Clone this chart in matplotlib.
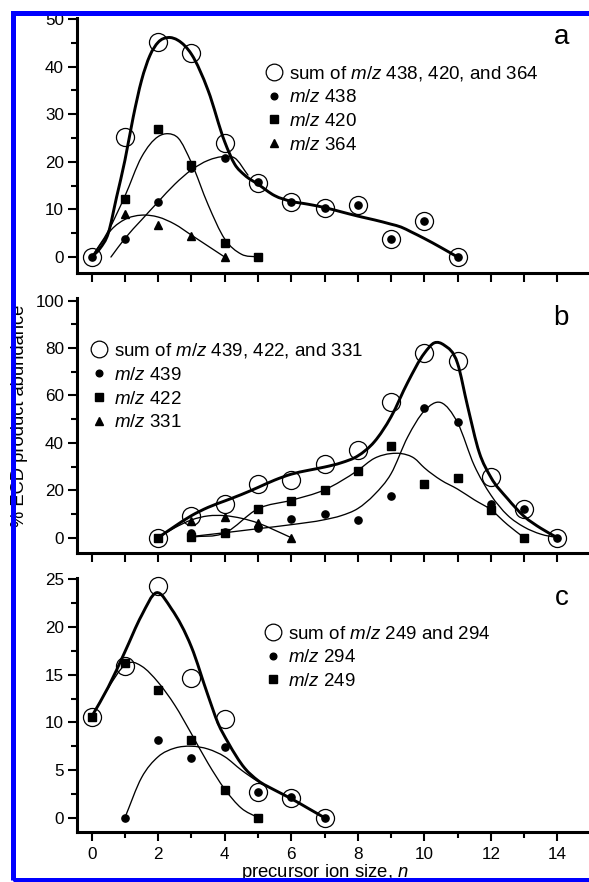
import numpy as np
import matplotlib
matplotlib.use("Agg")
import matplotlib.pyplot as plt
from matplotlib.path import Path
from matplotlib.patches import PathPatch, Rectangle
from matplotlib.ticker import MultipleLocator
from matplotlib.lines import Line2D

plt.rcParams.update({
    "font.family": ["Liberation Sans", "DejaVu Sans"],
    "mathtext.fontset": "custom",
    "mathtext.rm": "Liberation Sans",
    "mathtext.it": "Liberation Sans:italic",
    "mathtext.bf": "Liberation Sans:bold",
    "font.size": 12,
})

# ---------------- data: panel a ----------------
n_a = [0, 1, 2, 3, 4, 5, 6, 7, 8, 9, 10, 11]
sum_a = [0, 25.2, 45.1, 42.9, 23.9, 15.5, 11.6, 10.4, 10.9, 3.8, 7.6, 0]
mz438_a = [0, 3.8, 11.6, 18.8, 20.9, 15.7, 11.6, 10.4, 10.9, 3.8, 7.6, 0]
n420_a = [1, 2, 3, 4, 5]
mz420_a = [12.2, 26.8, 19.4, 3.0, 0]
n364_a = [1, 2, 3, 4]
mz364_a = [9.0, 6.8, 4.4, 0]
# fitted curves
fit_sum_a_x = [0, 0.25, 0.5, 0.75, 1, 1.25, 1.5, 1.75, 2, 2.3, 2.6, 3, 3.5, 4, 4.3, 4.6, 5,
               5.5, 6, 6.5, 7, 7.5, 8, 8.5, 9, 9.3, 9.6, 10, 10.5, 11]
fit_sum_a_y = [0, 1.8, 5.0, 12.6, 20.3, 29.4, 37.1, 42.3, 45.1, 46.1, 45.5, 42.6, 35.0, 24.2,
               19.5, 17.2, 15.3, 12.9, 11.7, 11.1, 10.4, 9.5, 8.6, 7.8, 6.9, 6.3, 5.3, 3.9, 2.0, 0]
fit_438_a_x = [0.58, 1, 1.5, 2, 2.5, 3, 3.5, 4, 4.3, 4.7]
fit_438_a_y = [0, 3.9, 7.8, 11.6, 15.3, 18.3, 20.3, 21.1, 20.8, 17.2]
fit_420_a_x = [0, 0.5, 1, 1.5, 2, 2.3, 2.6, 3, 3.5, 4, 4.5, 5]
fit_420_a_y = [0, 5.5, 12.8, 21.0, 25.3, 25.9, 25.0, 19.8, 11.0, 3.8, 0.6, 0]
fit_364_a_x = [0, 0.3, 0.6, 1, 1.5, 2, 2.5, 3, 3.5, 4]
fit_364_a_y = [0, 3.0, 5.8, 7.9, 8.8, 8.4, 6.9, 4.6, 2.3, 0]

# ---------------- data: panel b ----------------
n_b = [2, 3, 4, 5, 6, 7, 8, 9, 10, 11, 12, 13, 14]
sum_b = [0, 9.1, 14.2, 22.6, 24.2, 31.1, 36.8, 57.2, 77.8, 74.6, 25.8, 12.0, 0]
mz439_b = [0, 1.8, 2.2, 4.0, 7.9, 10.0, 7.5, 17.6, 54.6, 48.7, 14.4, 12.0, 0]
n422_b = [2, 3, 4, 5, 6, 7, 8, 9, 10, 11, 12, 13]
mz422_b = [0, 0.5, 2.0, 12.2, 15.6, 20.1, 28.3, 38.7, 22.7, 25.3, 11.7, 0]
n331_b = [3, 4, 5, 6]
mz331_b = [7.2, 8.9, 6.0, 0]
fit_sum_b_x = [2, 2.5, 3, 3.5, 4, 4.5, 5, 5.5, 6, 6.5, 7, 7.5, 8, 8.5, 9, 9.5, 10, 10.3,
               10.6, 11, 11.3, 11.65, 12, 12.5, 13, 13.5, 14]
fit_sum_b_y = [0, 4.8, 9.3, 12.8, 15.5, 18.2, 21.2, 24.3, 26.8, 28.4, 29.8, 31.6, 34.5, 40.5,
               51, 65.5, 77.8, 82.2, 81.2, 73.5, 55.5, 36.0, 25.5, 16.5, 9.0, 4.0, 0]
fit_439_b_x = [3, 4, 5, 6, 7, 7.5, 8, 8.5, 9, 9.5, 10, 10.5, 11, 11.5, 12, 12.5, 13, 13.5, 14]
fit_439_b_y = [0.5, 2.1, 3.8, 5.5, 7.6, 9.3, 12.3, 18.2, 27, 42.5, 53.5, 57, 48.5, 30.5, 18,
               9.5, 4.5, 1.5, 0]
fit_422_b_x = [3, 4, 5, 6, 7, 8, 8.5, 9, 9.3, 9.7, 10, 10.5, 11, 11.5, 12, 12.5, 13]
fit_422_b_y = [0.3, 2.0, 12.2, 15.8, 20.2, 28.4, 33.5, 35.5, 35.5, 33.5, 29.5, 24.3, 20.5,
               16.0, 11.8, 5.5, 0]
fit_331_b_x = [2, 2.5, 3, 3.5, 4, 4.5, 5, 5.5, 6]
fit_331_b_y = [0, 4.2, 7.5, 9.2, 9.3, 8.2, 6.2, 3.2, 0]

# ---------------- data: panel c ----------------
n_c = [0, 1, 2, 3, 4, 5, 6, 7]
sum_c = [10.6, 15.9, 24.3, 14.7, 10.4, 2.7, 2.1, 0]
n294_c = [1, 2, 3, 4, 5, 6, 7]
mz294_c = [0, 8.1, 6.3, 7.4, 2.7, 2.2, 0]
n249_c = [0, 1, 2, 3, 4, 5]
mz249_c = [10.6, 16.2, 13.4, 8.1, 2.9, 0]
fit_sum_c_x = [0, 0.5, 1, 1.5, 1.95, 2.4, 3, 3.5, 3.8, 4.1, 4.6, 5, 5.5, 6, 6.5, 7]
fit_sum_c_y = [10.6, 13.7, 17.4, 21.2, 23.6, 21.9, 17.9, 12.8, 9.9, 7.9, 5.2, 3.9, 2.9, 2.0, 1.0, 0]
fit_249_c_x = [0, 0.5, 1, 1.2, 1.5, 2, 2.5, 3, 3.5, 4, 4.5, 5]
fit_249_c_y = [10.6, 13.6, 16.0, 16.3, 15.9, 14.2, 11.8, 8.8, 5.7, 3.0, 1.0, 0]
fit_294_c_x = [1, 1.5, 2, 2.5, 3, 3.5, 4, 4.5, 5, 5.5, 6, 6.5, 7]
fit_294_c_y = [0, 4.2, 6.4, 7.3, 7.5, 7.2, 6.4, 5.0, 3.8, 2.9, 2.0, 1.0, 0]

labels_a = ["sum of $m/z$ 438, 420, and 364", "$m/z$ 438", "$m/z$ 420", "$m/z$ 364"]
labels_b = ["sum of $m/z$ 439, 422, and 331", "$m/z$ 439", "$m/z$ 422", "$m/z$ 331"]
labels_c = ["sum of $m/z$ 249 and 294", "$m/z$ 294", "$m/z$ 249"]

W, H = 589, 882
fig = plt.figure(figsize=(W / 100, H / 100), dpi=100)


def add_axes_px(left, top, right, bottom):
    return fig.add_axes([left / W, 1 - bottom / H, (right - left) / W, (bottom - top) / H])


def smooth_path(xs, ys):
    x = np.asarray(xs, float)
    y = np.asarray(ys, float)
    n = len(x)
    d = np.diff(y) / np.diff(x)
    m = np.zeros(n)
    m[0], m[-1] = d[0], d[-1]
    for i in range(1, n - 1):
        h0, h1 = x[i] - x[i - 1], x[i + 1] - x[i]
        m[i] = (d[i - 1] * h1 + d[i] * h0) / (h0 + h1)
    verts = [(x[0], y[0])]
    codes = [Path.MOVETO]
    for i in range(n - 1):
        h = x[i + 1] - x[i]
        verts += [(x[i] + h / 3, y[i] + m[i] * h / 3),
                  (x[i + 1] - h / 3, y[i + 1] - m[i + 1] * h / 3),
                  (x[i + 1], y[i + 1])]
        codes += [Path.CURVE4] * 3
    return Path(verts, codes)


def fit(ax, xs, ys, lw):
    ax.add_patch(PathPatch(smooth_path(xs, ys), fc="none", ec="black", lw=lw,
                           capstyle="round", joinstyle="round", zorder=2))


THICK, THIN = 2.1, 0.95
CIRC = dict(marker="o", ms=13, mfc="none", mec="black", mew=0.9, ls="none", zorder=3)
DOT = dict(marker="o", ms=5.2, color="black", ls="none", zorder=4)
SQR = dict(marker="s", ms=5.6, color="black", ls="none", zorder=4)
TRI = dict(marker="^", ms=6.2, color="black", ls="none", zorder=4)


def style(ax, ylim, ymaj, ymin, xlabels):
    ax.set_xlim(-0.44, 14.95)
    ax.set_ylim(*ylim)
    for s in ["top", "right"]:
        ax.spines[s].set_visible(False)
    for s in ["left", "bottom"]:
        ax.spines[s].set_linewidth(2.2)
    ax.yaxis.set_major_locator(MultipleLocator(ymaj))
    ax.yaxis.set_minor_locator(MultipleLocator(ymin))
    if xlabels:
        ax.xaxis.set_major_locator(MultipleLocator(2))
        ax.xaxis.set_minor_locator(MultipleLocator(1))
    else:
        ax.xaxis.set_major_locator(MultipleLocator(1))
    ax.tick_params(axis="both", which="major", direction="out", length=6.3, width=1.5,
                   labelsize=12.3, pad=3.0)
    ax.tick_params(axis="y", which="minor", direction="out", length=4.3, width=1.5)
    ax.tick_params(axis="x", which="minor", direction="out", length=4.0, width=1.5)
    ax.tick_params(axis="x", labelbottom=xlabels, pad=4)


def legend(ax, handles, labels, anchor):
    ax.legend(handles, labels, loc="upper left", bbox_to_anchor=anchor, frameon=False,
              borderpad=0, borderaxespad=0, handlelength=1.0, handletextpad=0.3,
              labelspacing=0.35, fontsize=13.5, numpoints=1)


h_circ = Line2D([], [], marker="o", ms=12, mfc="none", mec="black", mew=0.9, ls="none")
h_dot = Line2D([], [], marker="o", ms=4.8, color="black", ls="none")
h_sqr = Line2D([], [], marker="s", ms=5.2, color="black", ls="none")
h_tri = Line2D([], [], marker="^", ms=5.8, color="black", ls="none")

# ---------------- panel a ----------------
ax_a = add_axes_px(77, 18, 589, 273)
style(ax_a, (-3.35, 50.2), 10, 5, False)
fit(ax_a, fit_438_a_x, fit_438_a_y, THIN)
fit(ax_a, fit_420_a_x, fit_420_a_y, THIN)
fit(ax_a, fit_364_a_x, fit_364_a_y, THIN)
fit(ax_a, fit_sum_a_x, fit_sum_a_y, THICK)
ax_a.plot(n_a, sum_a, **CIRC)
ax_a.plot(n_a, mz438_a, **DOT)
ax_a.plot(n420_a, mz420_a, **SQR)
ax_a.plot(n364_a, mz364_a, **TRI)
legend(ax_a, [h_circ, h_dot, h_sqr, h_tri], labels_a, (0.366, 0.821))
ax_a.text(0.946, 0.897, "a", transform=ax_a.transAxes, ha="center", va="baseline", fontsize=20)

# ---------------- panel b ----------------
ax_b = add_axes_px(77, 298.3, 589, 553.3)
style(ax_b, (-6.58, 101.0), 20, 10, False)
fit(ax_b, fit_439_b_x, fit_439_b_y, THIN)
fit(ax_b, fit_422_b_x, fit_422_b_y, THIN)
fit(ax_b, fit_331_b_x, fit_331_b_y, THIN)
fit(ax_b, fit_sum_b_x, fit_sum_b_y, THICK)
ax_b.plot(n_b, sum_b, **CIRC)
ax_b.plot(n_b, mz439_b, **DOT)
ax_b.plot(n422_b, mz422_b, **SQR)
ax_b.plot(n331_b, mz331_b, **TRI)
legend(ax_b, [h_circ, h_dot, h_sqr, h_tri], labels_b, (0.0254, 0.832))
ax_b.text(0.946, 0.897, "b", transform=ax_b.transAxes, ha="center", va="baseline", fontsize=20)
ax_b.set_ylabel("% ECD product abundance", fontsize=13.2)
ax_b.yaxis.set_label_coords(20 / W, 1 - 416 / H, transform=fig.transFigure)
ax_b.yaxis.label.set_va("center")

# ---------------- panel c ----------------
ax_c = add_axes_px(77, 578, 589, 832.3)
style(ax_c, (-1.53, 25.14), 5, 2.5, True)
fit(ax_c, fit_249_c_x, fit_249_c_y, THIN)
fit(ax_c, fit_294_c_x, fit_294_c_y, THIN)
fit(ax_c, fit_sum_c_x, fit_sum_c_y, THICK)
ax_c.plot(n_c, sum_c, **CIRC)
ax_c.plot(n294_c, mz294_c, **DOT)
ax_c.plot(n249_c, mz249_c, **SQR)
legend(ax_c, [h_circ, h_dot, h_sqr], labels_c, (0.3645, 0.813))
ax_c.text(0.946, 0.894, "c", transform=ax_c.transAxes, ha="center", va="baseline", fontsize=20)
ax_c.set_xlabel("precursor ion size, $n$", fontsize=13.3)
ax_c.xaxis.set_label_coords(325 / W, 1 - 877 / H, transform=fig.transFigure)
ax_c.xaxis.label.set_va("baseline")

for ax in (ax_a, ax_b, ax_c):
    for art in ax.lines + ax.patches:
        art.set_clip_on(False)

# blue frame
fig.add_artist(Rectangle((12.5 / W, 1 - 879.5 / H), (590.5 - 12.5) / W, (879.5 - 12.5) / H,
                         transform=fig.transFigure, fill=False, ec="#0000ff", lw=3.6,
                         zorder=100))

fig.savefig("out.png", dpi=100)
